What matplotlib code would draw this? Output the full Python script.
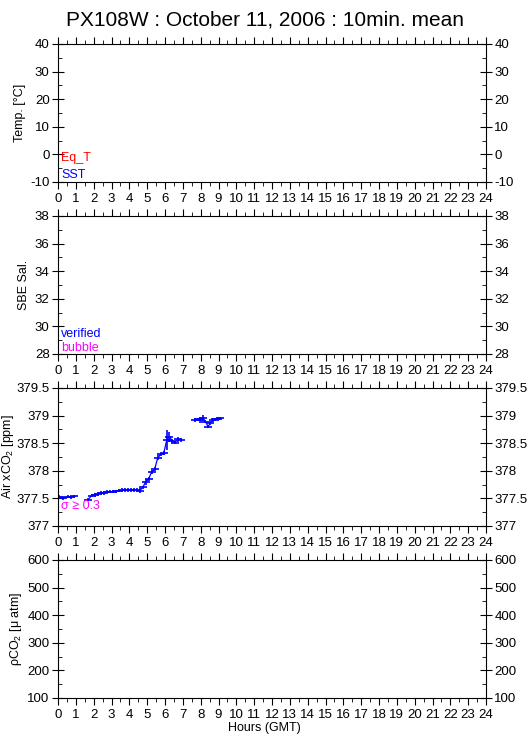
import matplotlib
matplotlib.use("Agg")
import matplotlib.pyplot as plt
from matplotlib.ticker import MultipleLocator, FuncFormatter

plt.rcParams['font.family'] = ['Liberation Sans', 'DejaVu Sans']
plt.rcParams['mathtext.fontset'] = 'custom'
plt.rcParams['mathtext.rm'] = 'Liberation Sans'

# Air xCO2 10-min means (hours GMT, ppm, std dev)
hours_1 = [0.08, 0.30, 0.55, 0.72, 0.92]
xco2_1 = [377.53, 377.51, 377.53, 377.52, 377.54]
err_1 = [0.03, 0.03, 0.03, 0.03, 0.03]

hours_2 = [1.70, 1.88, 2.05, 2.22, 2.40, 2.57, 2.75, 2.92, 3.08, 3.25, 3.42,
           3.58, 3.75, 3.92, 4.08, 4.25, 4.42, 4.58, 4.75, 4.92, 5.08, 5.25,
           5.42, 5.60, 5.77, 5.93, 6.10, 6.25, 6.40, 6.55, 6.72, 6.88]
xco2_2 = [377.48, 377.55, 377.56, 377.58, 377.60, 377.60, 377.62, 377.62,
          377.62, 377.63, 377.64, 377.65, 377.65, 377.65, 377.65, 377.65,
          377.65, 377.64, 377.70, 377.80, 377.85, 377.98, 378.03, 378.24,
          378.30, 378.32, 378.56, 378.62, 378.54, 378.51, 378.57, 378.56]
err_2 = [0.03, 0.03, 0.03, 0.03, 0.03, 0.03, 0.03, 0.03, 0.03, 0.03, 0.03,
         0.03, 0.03, 0.03, 0.03, 0.03, 0.03, 0.05, 0.03, 0.05, 0.03, 0.04,
         0.03, 0.05, 0.03, 0.03, 0.18, 0.09, 0.03, 0.03, 0.05, 0.03]

hours_3 = [7.68, 7.83, 7.98, 8.12, 8.27, 8.42, 8.55, 8.70, 8.83, 8.97, 9.10]
xco2_3 = [378.92, 378.93, 378.92, 378.96, 378.89, 378.80, 378.87, 378.92,
          378.93, 378.94, 378.95]
err_3 = [0.03, 0.03, 0.05, 0.05, 0.03, 0.03, 0.04, 0.03, 0.03, 0.03, 0.03]

ylabels = ['Temp. [°C]', 'SBE Sal.', 'Air xCO$_2$ [ppm]', 'ρCO$_2$ [μ atm]']
ylims = [(-10, 40), (28, 38), (377, 379.5), (100, 600)]
ymajor = [10, 2, 0.5, 100]
yminor = [5, 1, 0.25, 50]
label_x = [-0.075, -0.065, -0.098, -0.079]

fig = plt.figure(figsize=(5.29, 7.39), dpi=100)
fig.text(0.5, 0.986, 'PX108W : October 11, 2006 : 10min. mean',
         ha='center', va='top', fontsize=15)

W, H = 739.0, 529.0
tops = [44, 216, 388, 560]
axes = []
for i, top in enumerate(tops):
    ax = fig.add_axes([58 / H, 1 - (top + 138) / W, 428 / H, 138 / W])
    ax.set_xlim(0, 24)
    ax.set_ylim(*ylims[i])
    ax.xaxis.set_major_locator(MultipleLocator(1))
    ax.xaxis.set_minor_locator(MultipleLocator(0.5))
    ax.yaxis.set_major_locator(MultipleLocator(ymajor[i]))
    ax.yaxis.set_minor_locator(MultipleLocator(yminor[i]))
    ax.yaxis.set_major_formatter(FuncFormatter(lambda v, p: '%g' % v))
    ax.tick_params(axis='x', which='major', direction='out', length=5,
                   top=True, labelsize=9.5, pad=3)
    ax.tick_params(axis='x', which='minor', direction='out', length=3, top=True)
    ax.tick_params(axis='y', which='major', direction='inout', length=8,
                   right=True, labelright=True, labelsize=9.5, pad=2)
    ax.tick_params(axis='y', which='minor', direction='in', length=3, right=True)
    ax.set_ylabel(ylabels[i], fontsize=9)
    ax.yaxis.set_label_coords(label_x[i], 0.5)
    axes.append(ax)

axes[0].text(0.008, 0.15, 'Eq_T', color='red', transform=axes[0].transAxes, fontsize=9)
axes[0].text(0.008, 0.03, 'SST', color='blue', transform=axes[0].transAxes, fontsize=9)
axes[1].text(0.008, 0.12, 'verified', color='blue', transform=axes[1].transAxes, fontsize=9)
axes[1].text(0.008, 0.02, 'bubble', color='magenta', transform=axes[1].transAxes, fontsize=9)
axes[2].text(0.008, 0.12, 'σ ≥ 0.3', color='magenta', transform=axes[2].transAxes, fontsize=9)

for t, v, e in [(hours_1, xco2_1, err_1), (hours_2, xco2_2, err_2), (hours_3, xco2_3, err_3)]:
    axes[2].errorbar(t, v, yerr=e, fmt='-', color='blue', lw=0.9, elinewidth=1.2,
                     marker='_', markersize=6, markeredgewidth=1.2, capsize=0)

fig.text(0.5, 1 - 728 / W, 'Hours (GMT)', ha='center', va='center', fontsize=9)

fig.savefig('out.png', dpi=100)
